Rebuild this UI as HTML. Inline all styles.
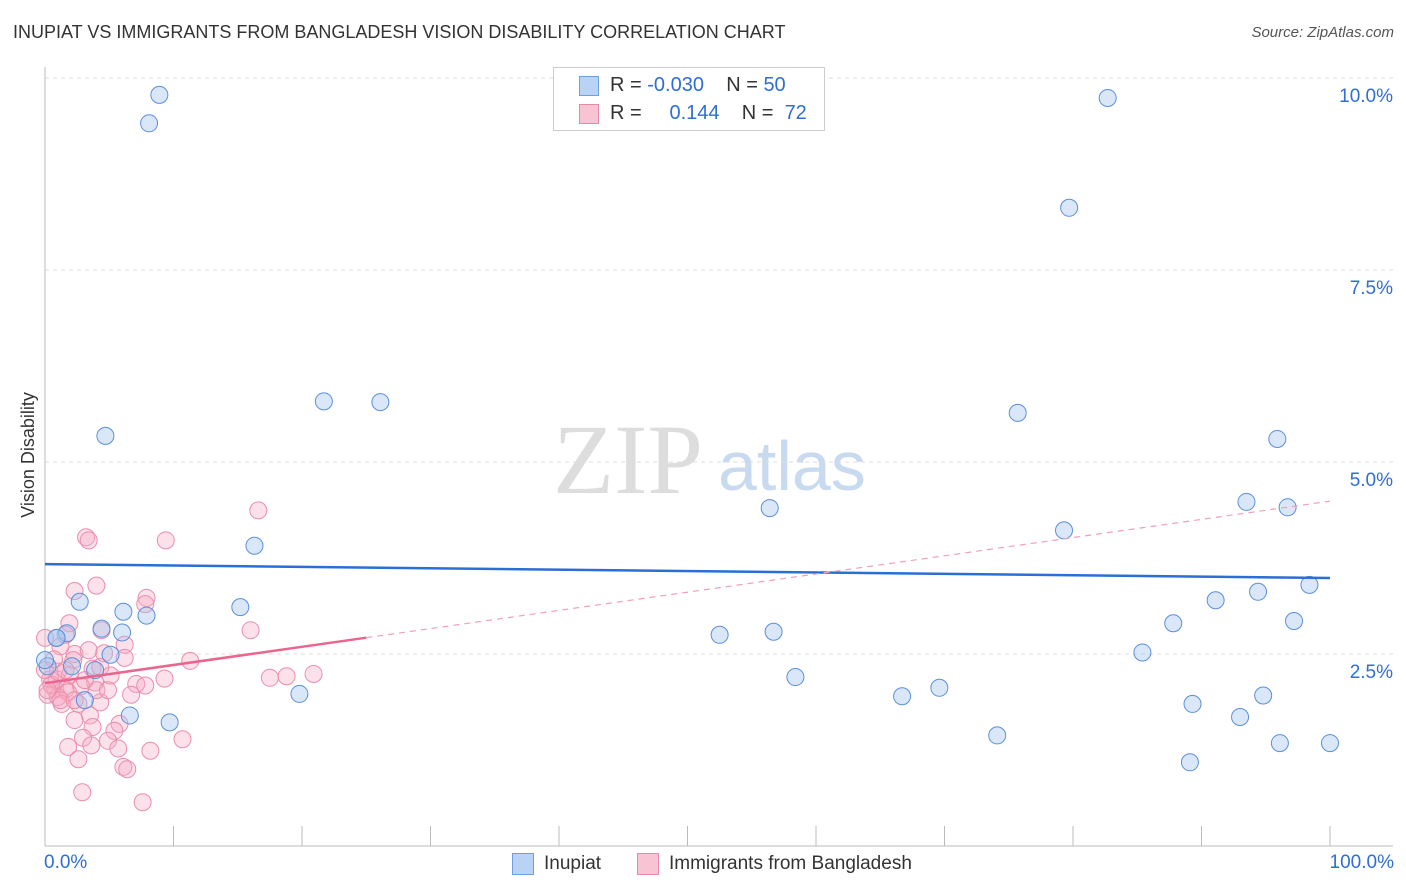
<!DOCTYPE html>
<html><head><meta charset="utf-8"><style>
body{margin:0;background:#fff;font-family:"Liberation Sans",sans-serif}
#wrap{position:relative;width:1406px;height:892px;overflow:hidden}
.t{position:absolute;white-space:nowrap}
</style></head><body>
<div id="wrap">
<div class="t" style="left:13px;top:22px;font-size:18px;color:#333">INUPIAT VS IMMIGRANTS FROM BANGLADESH VISION DISABILITY CORRELATION CHART</div>
<div class="t" style="right:12px;top:24px;font-size:15px;color:#555;font-style:italic">Source: ZipAtlas.com</div>
<svg id="svg" width="1406" height="892" style="position:absolute;left:0;top:0">
<text x="553" y="493" font-family="Liberation Serif,serif" font-size="100" fill="#ddd">ZIP</text>
<text x="718" y="490" font-family="Liberation Sans,sans-serif" font-size="70" fill="#c8daf0">atlas</text>
<text transform="translate(34,455) rotate(-90)" text-anchor="middle" font-size="18" fill="#333">Vision Disability</text>
<g id="grid"></g><g id="pts"></g><g id="trend"></g>
</svg>
<div class="t" style="left:553px;top:67px;width:270px;height:62px;border:1px solid #ccc;background:#fff;font-size:20px;color:#333">
<div style="position:absolute;left:25px;top:8px;width:18px;height:18px;background:#b9d3f4;border:1px solid #6e9fe0"></div>
<div style="position:absolute;left:56px;top:6px">R = <span style="color:#2f6fd1">-0.030</span>&nbsp;&nbsp;&nbsp; N = <span style="color:#2f6fd1">50</span></div>
<div style="position:absolute;left:25px;top:36px;width:18px;height:18px;background:#f8c4d4;border:1px solid #e888a6"></div>
<div style="position:absolute;left:56px;top:34px">R = &nbsp;&nbsp;&nbsp; <span style="color:#2f6fd1">0.144</span>&nbsp;&nbsp;&nbsp; N = &nbsp;<span style="color:#2f6fd1">72</span></div>
</div>
<div class="t" style="left:44px;top:852px;font-size:19px;color:#2f6fd1">0.0%</div>
<div class="t" style="right:12px;top:852px;font-size:19px;color:#2f6fd1">100.0%</div>
<div class="t" style="left:512px;top:853px;width:20px;height:20px;background:#b9d3f4;border:1px solid #6e9fe0"></div>
<div class="t" style="left:544px;top:853px;font-size:19px;color:#333">Inupiat</div>
<div class="t" style="left:637px;top:853px;width:20px;height:20px;background:#f8c4d4;border:1px solid #e888a6"></div>
<div class="t" style="left:669px;top:853px;font-size:19px;color:#333">Immigrants from Bangladesh</div>
</div>
<script>
const yTicks=[2.5,5.0,7.5,10.0];
const yTickLabels=["2.5%","5.0%","7.5%","10.0%"];
const xTicks=[0,10,20,30,40,50,60,70,80,90,100];
const inupiatX=[8.9,8.1,4.7,21.7,26.1,82.7,79.7,75.7,95.9,56.4,93.5,96.7,79.3,16.3,2.7,6.1,7.9,15.2,91.1,94.4,98.4,1.7,4.4,6.0,0.9,5.1,3.9,52.5,56.7,87.8,97.2,85.4,58.4,19.8,3.1,69.6,66.7,6.6,9.7,89.3,93.0,94.8,74.1,96.1,100,89.1,2.1,0.2,0.9,0];
const inupiatY=[9.78,9.41,5.34,5.79,5.78,9.74,8.31,5.64,5.30,4.40,4.48,4.41,4.11,3.91,3.18,3.05,3.00,3.11,3.20,3.31,3.40,2.77,2.83,2.78,2.71,2.49,2.29,2.75,2.79,2.90,2.93,2.52,2.20,1.98,1.90,2.06,1.95,1.70,1.61,1.85,1.68,1.96,1.44,1.34,1.34,1.09,2.34,2.34,2.71,2.42];
const bangX=[9.4,16.6,3.2,3.4,4.0,2.3,7.9,7.8,1.9,16.0,4.4,6.2,0,1.2,2.3,2.2,4.6,11.3,20.9,18.8,17.5,9.3,7.1,3.9,2.8,0.4,0.8,1.6,0.2,1.0,1.8,7.8,6.7,4.3,2.6,1.3,3.5,2.3,5.8,3.7,5.4,4.9,2.96,10.7,1.8,3.6,5.7,8.2,2.6,6.1,6.4,2.9,7.6,4.0,0.9,0.5,1.95,1.0,0,3.7,4.3,4.9,3.4,1.6,1.2,2.3,0.7,0.2,3.1,5.1,1.6,6.2];
const bangY=[3.98,4.37,4.02,3.98,3.39,3.32,3.23,3.15,2.90,2.81,2.81,2.62,2.71,2.60,2.50,2.42,2.51,2.41,2.24,2.21,2.19,2.18,2.11,2.13,2.08,2.17,2.04,2.04,1.97,1.94,2.00,2.09,1.97,1.87,1.85,1.85,1.70,1.64,1.59,1.55,1.50,1.37,1.41,1.39,1.29,1.31,1.27,1.24,1.13,1.03,1.00,0.70,0.57,2.03,2.17,2.10,2.23,2.27,2.29,2.31,2.33,2.03,2.55,2.75,1.90,1.90,2.43,2.03,2.16,2.22,2.29,2.45];
const inupiatTrend=[3.67,3.49];
const bangTrend=[2.12,4.49];
const bangSolidEnd=25;
const X=v=>45+v*12.85, Y=v=>846-v*76.8;
const NS="http://www.w3.org/2000/svg";
function mk(tag,attrs,parent){const e=document.createElementNS(NS,tag);for(const k in attrs)e.setAttribute(k,attrs[k]);parent.appendChild(e);return e;}
const grid=document.getElementById('grid'),pts=document.getElementById('pts'),tr=document.getElementById('trend');
yTicks.forEach((v,i)=>{
 const l=mk('line',{x1:45,x2:1393,y1:Y(v),y2:Y(v),stroke:'#ddd','stroke-dasharray':'4,4'},grid);
 
 
 const t=mk('text',{x:1393,y:Y(v)+24,'text-anchor':'end','font-size':19,fill:'#2f6fd1'},grid);
 t.textContent=yTickLabels[i];
 
 
});
const ax=mk('line',{x1:45,x2:45,y1:67,y2:846,stroke:'#bbb'},grid);


const bx=mk('line',{x1:45,x2:1393,y1:846,y2:846,stroke:'#bbb'},grid);


xTicks.forEach(v=>{const t=mk('line',{x1:X(v),x2:X(v),y1:826,y2:846,stroke:'#bbb'},grid);
 
 });
bangX.forEach((v,i)=>{const c=mk('circle',{cx:X(v),cy:Y(bangY[i]),r:8.5,fill:'rgba(246,170,195,0.35)',stroke:'#eb8eab','stroke-width':1},pts);
 
 });
inupiatX.forEach((v,i)=>{const c=mk('circle',{cx:X(v),cy:Y(inupiatY[i]),r:8.5,fill:'rgba(160,195,240,0.4)',stroke:'#5b90dc','stroke-width':1},pts);
 
 });
const bl=mk('line',{x1:X(0),x2:X(100),y1:Y(inupiatTrend[0]),y2:Y(inupiatTrend[1]),stroke:'#2a6fd6','stroke-width':2.5},tr);


const pAt=v=>bangTrend[0]+(bangTrend[1]-bangTrend[0])*v/100;
const pd=mk('line',{x1:X(bangSolidEnd),x2:X(100),y1:Y(pAt(bangSolidEnd)),y2:Y(pAt(100)),stroke:'#f0a0b8','stroke-width':1.2,'stroke-dasharray':'6,5'},tr);


const ps=mk('line',{x1:X(0),x2:X(bangSolidEnd),y1:Y(pAt(0)),y2:Y(pAt(bangSolidEnd)),stroke:'#e9668e','stroke-width':2.5},tr);


</script>
</body></html>
